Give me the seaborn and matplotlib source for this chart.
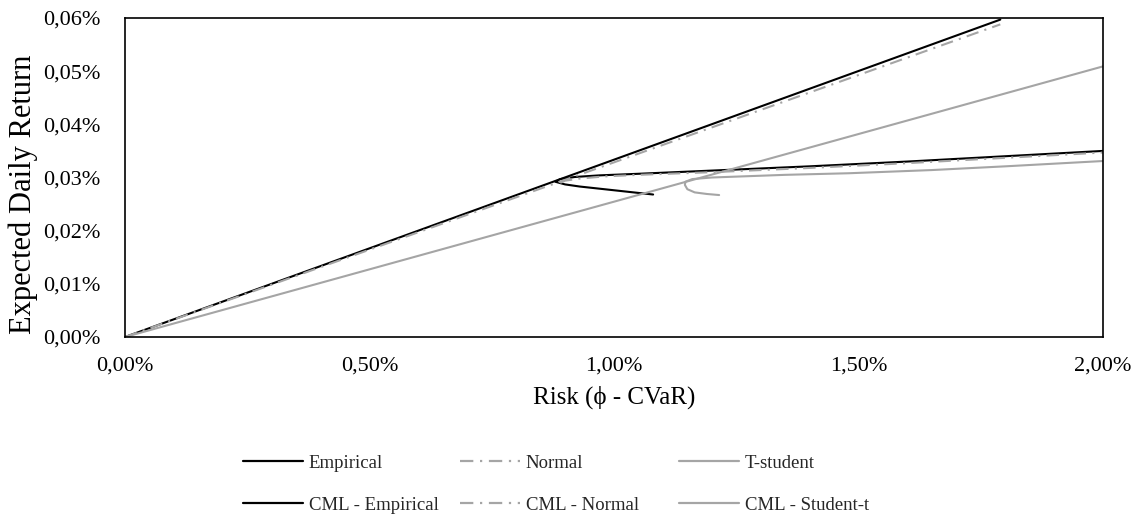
import matplotlib
matplotlib.use("Agg")
import matplotlib.pyplot as plt
from matplotlib.lines import Line2D
from matplotlib.ticker import FuncFormatter
import seaborn as sns
import pandas as pd

# Efficient frontiers (risk = phi-CVaR in %, expected daily return in %)
emp_risk = [1.08, 1.03, 0.98, 0.93, 0.90, 0.88, 0.89, 0.92, 0.97, 1.05, 1.20, 1.40, 1.60, 1.80, 2.00]
emp_ret = [0.0268, 0.0273, 0.0278, 0.0283, 0.0287, 0.0292, 0.0297, 0.0301, 0.0304, 0.0307, 0.0313, 0.0321, 0.0330, 0.0340, 0.0350]

norm_risk = [0.89, 0.90, 0.93, 0.98, 1.05, 1.20, 1.40, 1.60, 1.80, 2.00]
norm_ret = [0.0290, 0.0294, 0.0298, 0.0302, 0.0305, 0.0310, 0.0318, 0.0327, 0.0337, 0.0347]

t_risk = [1.215, 1.19, 1.165, 1.15, 1.145, 1.146, 1.16, 1.20, 1.26, 1.35, 1.48, 1.65, 1.80, 2.00]
t_ret = [0.0267, 0.0269, 0.0272, 0.0278, 0.0286, 0.0292, 0.0297, 0.0300, 0.0302, 0.0305, 0.0308, 0.0314, 0.0321, 0.0331]

# Capital market lines
cml_emp_risk = [0.0, 1.79]
cml_emp_ret = [0.0, 0.0597]
cml_norm_risk = [0.0, 1.79]
cml_norm_ret = [0.0, 0.0588]
cml_t_risk = [0.0, 2.00]
cml_t_ret = [0.0, 0.0509]

x_ticks = [0.0, 0.5, 1.0, 1.5, 2.0]
y_ticks = [0.0, 0.01, 0.02, 0.03, 0.04, 0.05, 0.06]

sns.set_theme(style="white")
plt.rcParams["font.family"] = ["Liberation Serif", "DejaVu Serif"]

BLACK = "#000000"
GREY = "#A5A5A5"
DASHDOT = (0, (6, 3, 1, 3))

W, H = 1141, 517
L, R, T, B = 125, 1103, 18, 337
fig = plt.figure(figsize=(W / 100, H / 100), dpi=100)
ax = fig.add_axes([L / W, 1 - B / H, (R - L) / W, (B - T) / H])

series = [
    ("Empirical", emp_risk, emp_ret, BLACK, "-"),
    ("Normal", norm_risk, norm_ret, GREY, DASHDOT),
    ("T-student", t_risk, t_ret, GREY, "-"),
    ("CML - Empirical", cml_emp_risk, cml_emp_ret, BLACK, "-"),
    ("CML - Normal", cml_norm_risk, cml_norm_ret, GREY, DASHDOT),
    ("CML - Student-t", cml_t_risk, cml_t_ret, GREY, "-"),
]

handles = {}
for name, xs, ys, color, ls in series:
    df = pd.DataFrame({"risk": xs, "ret": ys})
    sns.lineplot(data=df, x="risk", y="ret", sort=False, estimator=None,
                 color=color, linestyle=ls, linewidth=1.5, ax=ax)
    handles[name] = Line2D([], [], color=color, linestyle=ls, linewidth=1.6)

pct = FuncFormatter(lambda v, p: f"{v:.2f}%".replace(".", ","))
ax.set_xlim(0, 2.0)
ax.set_ylim(0, 0.06)
ax.set_xticks(x_ticks)
ax.set_yticks(y_ticks)
ax.xaxis.set_major_formatter(pct)
ax.yaxis.set_major_formatter(pct)
ax.tick_params(axis="both", labelsize=16, length=0, colors="black")
ax.tick_params(axis="x", pad=14)
ax.tick_params(axis="y", pad=18)
ax.set_xlabel("Risk (ϕ - CVaR)", fontsize=18, color="black")
ax.set_ylabel("Expected Daily Return", fontsize=22, color="black")
ax.xaxis.set_label_coords(0.5, (B - 386) / (B - T))
ax.yaxis.set_label_coords((38 - L) / (R - L), (B - 194) / (B - T))
for s in ax.spines.values():
    s.set_visible(True)
    s.set_color("black")
    s.set_linewidth(1.2)

# three legend columns of two rows each, evenly placed below the axes
columns = [
    (243, ["Empirical", "CML - Empirical"]),
    (460, ["Normal", "CML - Normal"]),
    (679, ["T-student", "CML - Student-t"]),
]
for x0, names in columns:
    fig.legend([handles[k] for k in names], names, loc="center left",
               bbox_to_anchor=(x0 / W, 1 - 484 / H), frameon=False,
               fontsize=13.5, handlelength=3.2, handletextpad=0.3,
               labelspacing=1.32, borderpad=0, borderaxespad=0)

fig.savefig("out.png", dpi=100, facecolor="white")
